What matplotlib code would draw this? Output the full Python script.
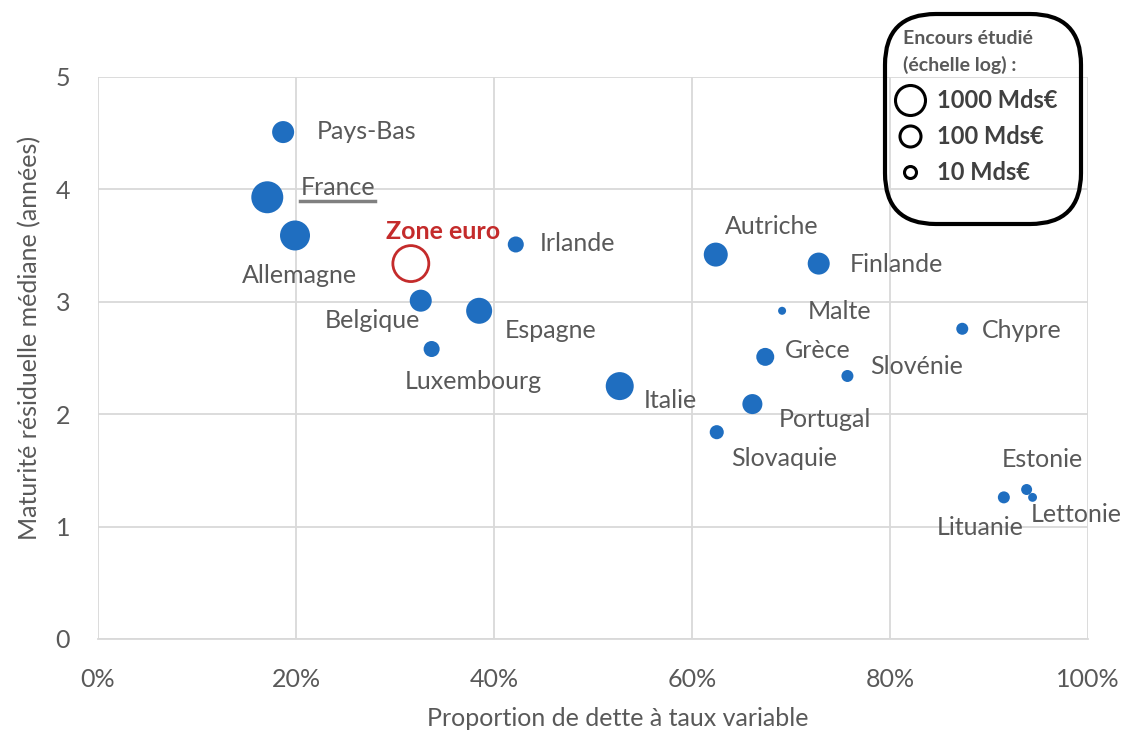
import numpy as np
import matplotlib
matplotlib.use("Agg")
import matplotlib.pyplot as plt
from matplotlib.patches import FancyBboxPatch
from matplotlib.lines import Line2D

plt.rcParams["font.family"] = ["Lato", "DejaVu Sans"]

# donnees
pays = ["Pays-Bas", "France", "Allemagne", "Irlande", "Belgique", "Espagne",
        "Luxembourg", "Italie", "Autriche", "Finlande", "Malte", "Grèce",
        "Slovénie", "Chypre", "Portugal", "Slovaquie", "Estonie", "Lettonie",
        "Lituanie"]
taux_variable = [0.187, 0.171, 0.199, 0.422, 0.326, 0.385, 0.337, 0.527, 0.624,
                 0.728, 0.691, 0.674, 0.757, 0.873, 0.661, 0.625, 0.938, 0.944,
                 0.915]
maturite = [4.51, 3.93, 3.59, 3.51, 3.01, 2.92, 2.58, 2.25, 3.42, 3.34, 2.92,
            2.51, 2.34, 2.76, 2.09, 1.84, 1.33, 1.26, 1.26]
encours = [130, 1660, 1000, 28, 130, 360, 28, 600, 215, 130, 3.6, 46, 10, 10,
           78, 17, 7.7, 4.5, 10]  # Mds EUR

ze_taux = 0.316
ze_maturite = 3.34
ze_encours = 4600

legende_encours = [1000, 100, 10]

# decalage des etiquettes (pixels)
decal = {"Pays-Bas": (34, 1), "France": (33, 10), "Allemagne": (-53, -40),
         "Irlande": (24, 1), "Belgique": (-96, -20), "Espagne": (26, -20),
         "Luxembourg": (-27, -32), "Italie": (24, -14), "Autriche": (9, 28),
         "Finlande": (31, -1), "Malte": (26, -1), "Grèce": (20, 6),
         "Slovénie": (23, 9), "Chypre": (20, -2), "Portugal": (26, -15),
         "Slovaquie": (14, -26), "Estonie": (-25, 30), "Lettonie": (-2, -17),
         "Lituanie": (-67, -30)}

BLEU = "#1F6EC0"
ROUGE = "#C42B2B"
GRIS = "#595959"
GRILLE = "#D9D9D9"
FS = 18


def diametre(v):
    # diametre en pixels, echelle log
    return 3 + 9 * np.log10(v)


def taille(v):
    return (diametre(np.asarray(v, dtype=float)) * 0.72) ** 2


fig = plt.figure(figsize=(11.28, 7.33), dpi=100)
ax = fig.add_axes([98 / 1128, 1 - 639 / 733, 990 / 1128, 562 / 733])

ax.scatter(taux_variable, maturite, s=taille(encours), color=BLEU,
           edgecolors="none", zorder=3)
ax.scatter([ze_taux], [ze_maturite], s=taille([ze_encours]), facecolors="none",
           edgecolors=ROUGE, linewidths=2.0, zorder=3)

for nom, x, y in zip(pays, taux_variable, maturite):
    dx, dy = decal[nom]
    t = ax.annotate(nom, (x, y), xytext=(dx, dy), textcoords="offset pixels",
                    ha="left", va="center", fontsize=FS, color=GRIS)
    if nom == "France":
        t_france = t

ax.annotate("Zone euro", (ze_taux, ze_maturite), xytext=(-25, 32),
            textcoords="offset pixels", ha="left", va="center", fontsize=FS,
            color=ROUGE, fontweight="bold")

ax.set_xlim(0, 1)
ax.set_ylim(0, 5)
ax.set_xticks(np.arange(0, 1.01, 0.2))
ax.set_xticklabels(["%d%%" % round(v * 100) for v in np.arange(0, 1.01, 0.2)])
ax.set_yticks(range(6))
ax.grid(True, color=GRILLE, lw=1.3)
ax.set_axisbelow(True)
for s in ax.spines.values():
    s.set_visible(False)
ax.spines["bottom"].set_visible(True)
ax.spines["bottom"].set_color(GRILLE)
ax.spines["bottom"].set_linewidth(1.3)
ax.tick_params(axis="x", length=0, labelsize=FS, labelcolor=GRIS, pad=21)
ax.tick_params(axis="y", length=0, labelsize=FS, labelcolor=GRIS, pad=20)
ax.set_xlabel("Proportion de dette à taux variable", fontsize=FS, color=GRIS)
ax.set_ylabel("Maturité résiduelle médiane (années)", fontsize=FS, color=GRIS)
ax.xaxis.set_label_coords(0.525, -(718 - 639) / 562)
ax.yaxis.set_label_coords(-(98 - 30) / 990, (639 - 338) / 562)
ax.xaxis.label.set_va("center")
ax.yaxis.label.set_va("center")

# soulignement de France
fig.canvas.draw()
bb = t_france.get_window_extent().transformed(fig.transFigure.inverted())
fig.add_artist(Line2D([bb.x0, bb.x1], [bb.y0 - 0.003, bb.y0 - 0.003],
                      color="#808080", lw=2.5))

# legende des tailles
boite = FancyBboxPatch((885 / 1128, 1 - 224 / 733), 196 / 1128, 210 / 733,
                       boxstyle="round,pad=0,rounding_size=0.045",
                       transform=fig.transFigure, facecolor="none",
                       edgecolor="black", lw=3, mutation_aspect=1128 / 733)
fig.add_artist(boite)
fig.text(903 / 1128, 1 - 38 / 733, "Encours étudié", fontsize=14,
         fontweight="bold", color=GRIS, va="center")
fig.text(903 / 1128, 1 - 65 / 733, "(échelle log) :", fontsize=14,
         fontweight="bold", color=GRIS, va="center")
for i, v in enumerate(legende_encours):
    yl = 1 - (100 + 36 * i) / 733
    fig.add_artist(Line2D([910 / 1128], [yl], marker="o", linestyle="none",
                          markersize=diametre(v) * 0.72, markerfacecolor="none",
                          markeredgecolor="black", markeredgewidth=2.2))
    fig.text(937 / 1128, yl, "%d Mds€" % v, fontsize=17, fontweight="bold",
             color="#404040", va="center")

fig.savefig("out.png", dpi=100)
